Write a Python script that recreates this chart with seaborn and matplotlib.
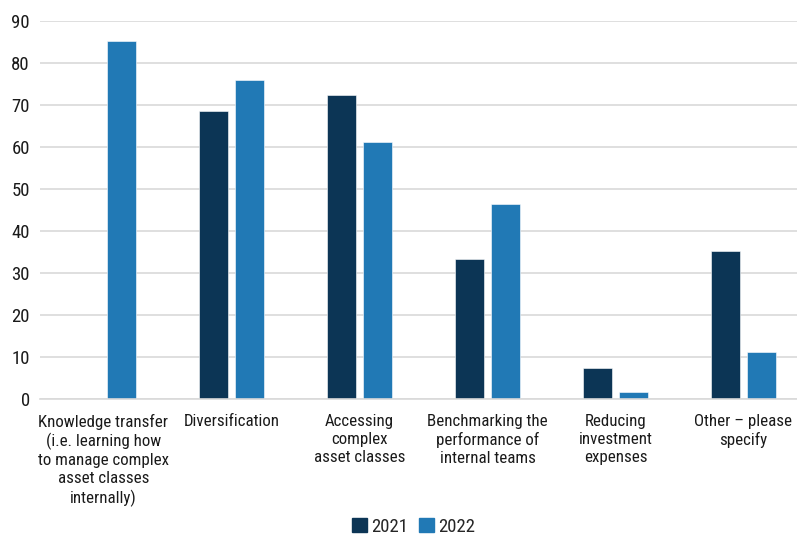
import numpy as np
import pandas as pd
import matplotlib
matplotlib.use("Agg")
import matplotlib.pyplot as plt
import seaborn as sns

categories = [
    "Knowledge transfer\n(i.e. learning how\nto manage complex\nasset classes\ninternally)",
    "Diversification",
    "Accessing\ncomplex\nasset classes",
    "Benchmarking the\nperformance of\ninternal teams",
    "Reducing\ninvestment\nexpenses",
    "Other \u2013 please\nspecify",
]
years = ["2021", "2022"]
values_2021 = [np.nan, 68.4, 72.3, 33.2, 7.2, 35.1]
values_2022 = [85.2, 75.9, 61.1, 46.3, 1.7, 11.0]
yticks = [0, 10, 20, 30, 40, 50, 60, 70, 80, 90]

colors = {"2021": "#0c3555", "2022": "#2179b5"}

df = pd.DataFrame({
    "category": categories * 2,
    "year": [years[0]] * len(categories) + [years[1]] * len(categories),
    "value": values_2021 + values_2022,
})

sns.set_theme(style="white")
plt.rcParams["font.family"] = ["Roboto Condensed", "Roboto", "DejaVu Sans"]

W, H = 797, 535
fig = plt.figure(figsize=(W / 100, H / 100), dpi=100)
left, right, top, bottom = 39.5, 807.5, 20.7, 398.7
ax = fig.add_axes([left / W, 1 - bottom / H, (right - left) / W, (bottom - top) / H])

sns.barplot(data=df, x="category", y="value", hue="year", order=categories,
            hue_order=years, palette=colors, saturation=1, width=0.5625, gap=0.194,
            edgecolor="white", linewidth=0.4, ax=ax, legend=False)

ax.set_ylim(0, 90)
ax.set_xlim(-0.5, len(categories) - 0.5)
ax.set_yticks(yticks)
ax.set_yticklabels([str(t) for t in yticks])
ax.yaxis.grid(True, color="#d9d9d9", linewidth=1.2)
ax.set_axisbelow(True)
for s in ["top", "right", "left"]:
    ax.spines[s].set_visible(False)
ax.spines["bottom"].set_color("#d9d9d9")
ax.spines["bottom"].set_linewidth(1.2)
ax.set_xlabel("")
ax.set_ylabel("")
ax.tick_params(axis="y", length=0, pad=7, labelsize=13.5, labelcolor="#1a1a1a")
ax.tick_params(axis="x", length=0, pad=11, labelsize=12.2, labelcolor="#1a1a1a")
for lab in ax.get_xticklabels():
    lab.set_linespacing(1.24)

handles = [plt.Rectangle((0, 0), 1, 1, color=colors[y]) for y in years]
fig.legend(handles, years, loc="center", bbox_to_anchor=(413.5 / W, 1 - 526.5 / H),
           ncol=2, frameon=False, fontsize=13.5, handlelength=0.8, handleheight=0.75,
           handletextpad=0.25, columnspacing=0.55, borderaxespad=0, borderpad=0)

fig.savefig("out.png", dpi=100)
